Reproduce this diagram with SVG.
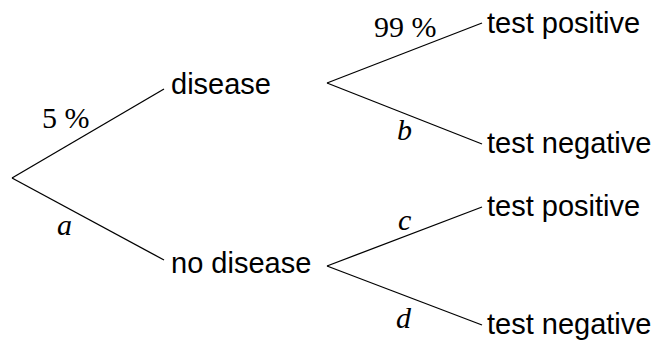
<svg xmlns="http://www.w3.org/2000/svg" width="655" height="341" viewBox="0 0 655 341">
<style>
.n{font-family:"Liberation Sans",Arial,sans-serif;font-size:29px;fill:#000}
.l{font-family:"Liberation Serif","Times New Roman",serif;font-size:30px;fill:#000}
.i{font-style:italic}
.c line{stroke:#000;stroke-width:1.3}
</style>
<rect width="655" height="341" fill="#fff"/>
<g class="c" id="connectors">
<line x1="12" y1="178" x2="164" y2="89"/>
<line x1="12" y1="178" x2="164" y2="260"/>
<line x1="327" y1="83" x2="482" y2="23"/>
<line x1="327" y1="83" x2="482" y2="144"/>
<line x1="327" y1="266" x2="482" y2="207"/>
<line x1="327" y1="266" x2="482" y2="325"/>
<text class="l" x="42" y="128">5 %</text>
<text class="l i" x="57" y="235">a</text>
<text class="l" x="374" y="37">99 %</text>
<text class="l i" x="397" y="140">b</text>
<text class="l i" x="398" y="230">c</text>
<text class="l i" x="396" y="328">d</text>
</g>
<g id="disease"><text class="n" x="171" y="94">disease</text></g>
<g id="no-disease"><text class="n" x="171" y="273">no disease</text></g>
<g id="d-pos"><text class="n" x="487" y="33">test positive</text></g>
<g id="d-neg"><text class="n" x="487" y="153">test negative</text></g>
<g id="n-pos"><text class="n" x="487" y="216">test positive</text></g>
<g id="n-neg"><text class="n" x="487" y="334">test negative</text></g>
</svg>
